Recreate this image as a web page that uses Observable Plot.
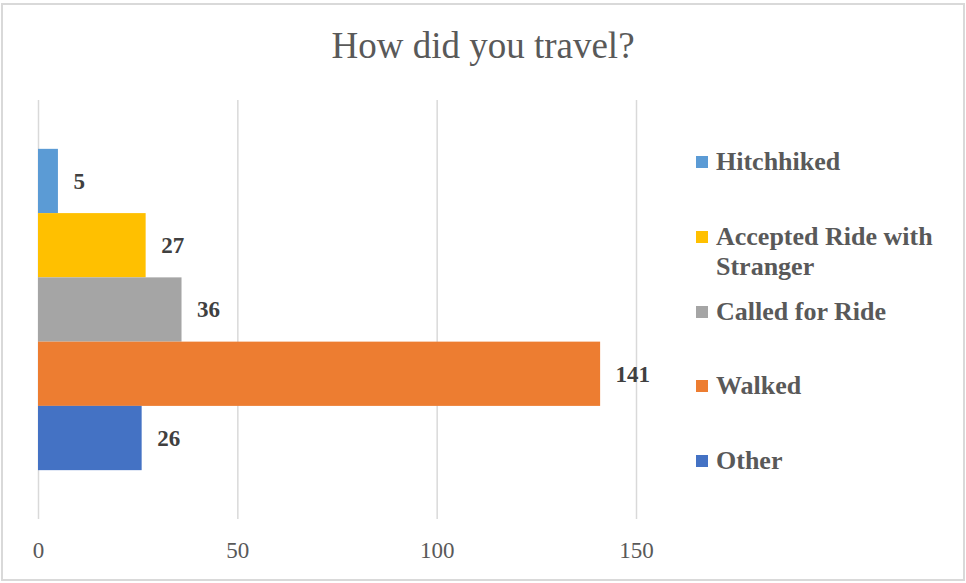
<!DOCTYPE html>
<html>
<head>
<meta charset="utf-8">
<script src="https://cdn.jsdelivr.net/npm/d3@7"></script>
<script src="https://cdn.jsdelivr.net/npm/@observablehq/plot@0.6"></script>
<style>
  html, body { margin: 0; padding: 0; background: #fff; }
  #wrap { position: relative; width: 966px; height: 583px; overflow: hidden; background: #fff; }
  #frame { position: absolute; left: 1px; top: 3px; width: 960px; height: 574px; border: 2px solid #D9D9D9; box-sizing: content-box; pointer-events: none; }
  #title { position: absolute; left: 0; top: 27px; width: 966px; text-align: center; font-family: "Liberation Serif", serif; font-size: 37px; line-height: 37px; color: #595959; }
  #chart { position: absolute; left: 0; top: 0; }
  .leg { position: absolute; left: 696px; display: flex; align-items: flex-start; font-family: "Liberation Serif", serif; font-weight: bold; font-size: 26px; line-height: 30px; color: #595959; }
  .leg .sw { width: 12px; height: 12px; margin-top: 9px; margin-right: 8px; flex: none; }
  .leg .tx { width: 236px; }
</style>
</head>
<body>
<div id="wrap">
  <div id="chart"></div>
  <div id="title"></div>
  <div id="frame"></div>
</div>
<script>
const titleText = "How did you travel?";
const categories = ["Hitchhiked", "Accepted Ride with Stranger", "Called for Ride", "Walked", "Other"];
const values = [5, 27, 36, 141, 26];
const colors = ["#5B9BD5", "#FFC000", "#A5A5A5", "#ED7D31", "#4472C4"];
const xTicks = [0, 50, 100, 150];

const data = categories.map((c, i) => ({label: c, value: values[i], color: colors[i]}));

const plot = Plot.plot({
  width: 966,
  height: 583,
  marginLeft: 38,
  marginRight: 330,
  marginTop: 100,
  marginBottom: 64,
  style: {fontFamily: "Liberation Serif, serif", background: "transparent"},
  x: {domain: [0, 150], ticks: xTicks},
  y: {domain: categories, axis: null, paddingInner: 0, paddingOuter: 0.76, round: false},
  marks: [
    Plot.gridX(xTicks, {stroke: "#D9D9D9", strokeOpacity: 1, strokeWidth: 1.5}),
    Plot.barX(data, {x: "value", y: "label", fill: "color"}),
    Plot.text(data, {x: "value", y: "label", text: d => String(d.value), dx: 15, textAnchor: "start",
      fontWeight: "bold", fontSize: 23, fill: "#404040"}),
    Plot.axisX({ticks: xTicks, tickSize: 0, tickPadding: 22, fontSize: 23, color: "#595959", label: null})
  ]
});
document.getElementById("chart").appendChild(plot);
document.getElementById("title").textContent = titleText;

const wrap = document.getElementById("wrap");
categories.forEach((c, i) => {
  const row = document.createElement("div");
  row.className = "leg";
  row.style.top = (147 + i * 74.8) + "px";
  const sw = document.createElement("div");
  sw.className = "sw";
  sw.style.background = colors[i];
  const tx = document.createElement("div");
  tx.className = "tx";
  tx.textContent = c;
  row.appendChild(sw);
  row.appendChild(tx);
  wrap.appendChild(row);
});
</script>
</body>
</html>
